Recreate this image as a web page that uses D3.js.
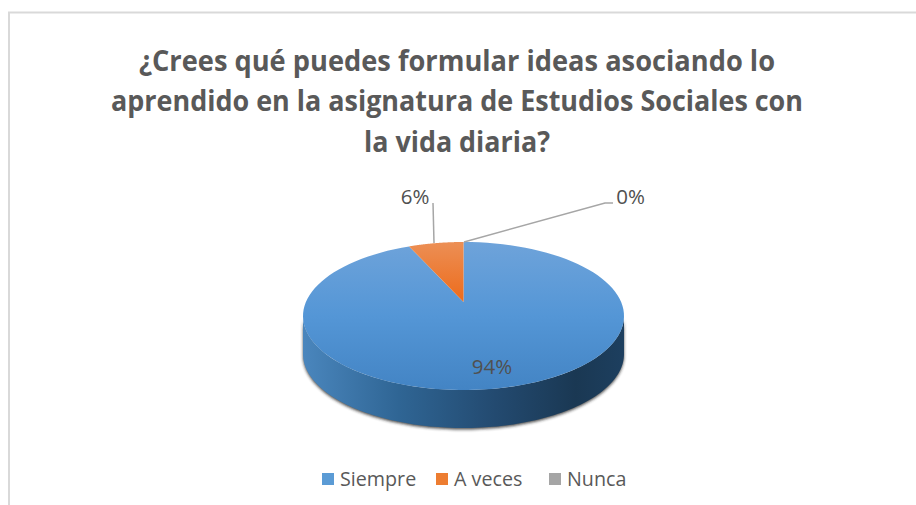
<!DOCTYPE html>
<html>
<head>
<meta charset="utf-8">
<script src="https://cdn.jsdelivr.net/npm/d3@7"></script>
<style>
  html, body { margin: 0; padding: 0; background: #fff; overflow: hidden; }
  svg { display: block; }
  text { font-family: 'Open Sans', sans-serif; }
</style>
</head>
<body>
<div id="chart"></div>
<script>
const width = 916;
const height = 505;

const titleLines = [
  '¿Crees qué puedes formular ideas asociando lo',
  'aprendido en la asignatura de Estudios Sociales con',
  'la vida diaria?',
];
const titleWidths = [636, 692, 186];
const categories = ['Siempre', 'A veces', 'Nunca'];
const values = [94.5, 5.5, 0];
const percentLabels = ['94%', '6%', '0%'];
const colors = ['#5b9bd5', '#ed7d31', '#a5a5a5'];

// pie geometry, the apex sits above the ellipse centre because of the 3d tilt
const cx = 463.5;
const cy = 316;
const rx = 160.5;
const ry = 74;
const depth = 38;
const apexLift = 14;

const svg = d3.select('#chart').append('svg').attr('width', width).attr('height', height);
const defs = svg.append('defs');

function addGradient(id, attrs, stops) {
  const g = defs.append('linearGradient').attr('id', id).attr('gradientUnits', 'userSpaceOnUse');
  Object.entries(attrs).forEach(([k, v]) => g.attr(k, v));
  stops.forEach(([o, c]) => g.append('stop').attr('offset', o).attr('stop-color', c));
}

addGradient('faceBlue', { x1: 0, x2: 0, y1: cy - ry, y2: cy + ry }, [[0, '#6ea3da'], [0.5, '#5496d6'], [1, '#4384c4']]);
addGradient('faceOrange', { x1: 0, x2: 0, y1: cy - ry, y2: cy - apexLift }, [[0, '#ec8f55'], [1, '#ed6b1b']]);
addGradient('sideBlue', { x1: cx - rx, x2: cx + rx, y1: 0, y2: 0 }, [[0, '#4a86bd'], [0.3, '#2f6594'], [0.6, '#234a70'], [0.85, '#1a3853'], [1, '#1d3f5f']]);
defs.append('filter').attr('id', 'soft').attr('x', '-10%').attr('y', '-10%').attr('width', '120%').attr('height', '125%')
  .append('feGaussianBlur').attr('stdDeviation', 1.6);

// chart frame, runs off the right and bottom of the shot
svg.append('path')
  .attr('d', `M9,${height}V12.5H${width}`)
  .attr('fill', 'none')
  .attr('stroke', '#d9d9d9')
  .attr('stroke-width', 2);

// title, stretched to the measured line widths
svg.append('g').attr('fill', '#595959').attr('font-weight', 700).attr('text-anchor', 'middle')
  .selectAll('text')
  .data(titleLines)
  .join('text')
  .attr('x', 457)
  .attr('y', (d, i) => 71 + i * 40.3)
  .attr('font-size', 29)
  .attr('textLength', (d, i) => titleWidths[i])
  .attr('lengthAdjust', 'spacingAndGlyphs')
  .text((d) => d);

const pie = d3.pie().sort(null).value((d) => d);
const arcs = pie(values);

const px = (a) => cx + rx * Math.sin(a);
const py = (a) => cy - ry * Math.cos(a);
const line = d3.line();
const sweep = (a0, a1, n = 120) => d3.range(n + 1).map((i) => a0 + ((a1 - a0) * i) / n);

// side wall and its shadow, lower half of the ellipse pushed down by depth
const lower = sweep(Math.PI / 2, (3 * Math.PI) / 2);
const sidePts = lower.map((a) => [px(a), py(a)]).concat(lower.slice().reverse().map((a) => [px(a), py(a) + depth]));
svg.append('path')
  .attr('d', line(sidePts) + 'Z')
  .attr('fill', '#222')
  .attr('opacity', 0.8)
  .attr('transform', 'translate(0,1.5)')
  .attr('filter', 'url(#soft)');
svg.append('path').attr('d', line(sidePts) + 'Z').attr('fill', 'url(#sideBlue)');

// top face slices
const apex = [cx, cy - apexLift];
svg.append('g')
  .selectAll('path')
  .data(arcs)
  .join('path')
  .attr('d', (d) => line([apex, ...sweep(d.startAngle, d.endAngle).map((a) => [px(a), py(a)])]) + 'Z')
  .attr('fill', (d, i) => (i === 0 ? 'url(#faceBlue)' : i === 1 ? 'url(#faceOrange)' : colors[2]));

// leader lines
const leaders = [
  [[434, 243], [433, 203]],
  [[464, 242], [605, 203], [613, 203]],
];
svg.append('g').attr('fill', 'none').attr('stroke', '#a6a6a6').attr('stroke-width', 1.5)
  .selectAll('path')
  .data(leaders)
  .join('path')
  .attr('d', (d) => line(d));

// data labels
const labelPos = [[492, 374], [415, 204], [630.5, 204]];
svg.append('g').attr('fill', '#505050').attr('text-anchor', 'middle').attr('font-size', 20.5)
  .selectAll('text')
  .data(percentLabels)
  .join('text')
  .attr('x', (d, i) => labelPos[i][0])
  .attr('y', (d, i) => labelPos[i][1])
  .text((d) => d);

// legend
const legendX = [322, 436, 549];
const legend = svg.append('g')
  .selectAll('g')
  .data(categories)
  .join('g')
  .attr('transform', (d, i) => `translate(${legendX[i]},473)`);
legend.append('rect').attr('width', 12).attr('height', 12).attr('fill', (d, i) => colors[i]);
legend.append('text')
  .attr('x', 18)
  .attr('y', 12.5)
  .attr('font-size', 19.7)
  .attr('fill', '#595959')
  .text((d) => d);
</script>
</body>
</html>
